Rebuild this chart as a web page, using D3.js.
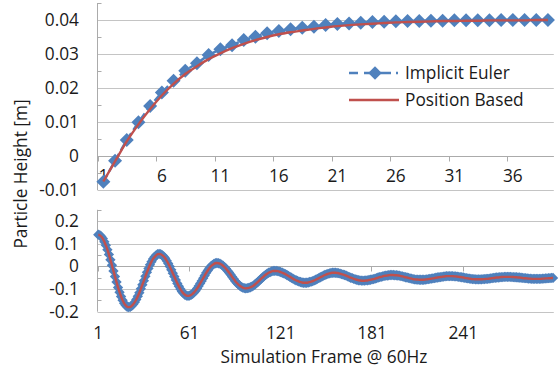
<!DOCTYPE html>
<html lang="en">
    <head>
        <meta charset="utf-8">
        <title>Particle Height</title>
        <script src="https://d3js.org/d3.v7.min.js"></script>
        <style type="text/css">
            body{
                margin:0;
                background:#fff;
            }
            svg{
                width:559px;
                height:373px;
                display:block;
                font-family:"Open Sans", sans-serif;
            }
        </style>
    </head>
    <body>
        <svg></svg>
        <script type="text/javascript">

            // top panel: first 39 frames
            const topFrames = d3.range(1, 40);
            const topEuler = [-0.0076,-0.0014,0.0047,0.0099,0.0147,0.0187,0.0221,0.0251,0.0273,0.0297,
                              0.0314,0.0326,0.0341,0.0351,0.0361,0.0368,0.0373,0.0377,0.0380,0.0385,
                              0.0388,0.0390,0.0392,0.0394,0.0395,0.0396,0.0397,0.0397,0.0398,0.0398,
                              0.0399,0.0399,0.0399,0.0399,0.0400,0.0400,0.0400,0.0400,0.0400];
            const topPosition = [-0.0075,-0.0016,0.0043,0.0093,0.0138,0.0178,0.0212,0.0241,0.0264,0.0285,
                                 0.0302,0.0317,0.0330,0.0341,0.0350,0.0358,0.0364,0.0369,0.0374,0.0378,
                                 0.0382,0.0385,0.0387,0.0389,0.0391,0.0393,0.0394,0.0395,0.0396,0.0397,
                                 0.0397,0.0398,0.0398,0.0399,0.0399,0.0399,0.0399,0.0400,0.0400];
            const topTickLabels = [1, 6, 11, 16, 21, 26, 31, 36];
            const topYTicks = [-0.01, 0, 0.01, 0.02, 0.03, 0.04];

            // bottom panel: 300 frames (both methods overlap)
            const bottomFrames = d3.range(1, 301);
            const bottomHeight = [
                0.140,0.138,0.132,0.123,0.109,0.093,0.074,0.053,0.029,0.005,-0.020,-0.045,-0.069,-0.093,-0.114,-0.133,-0.149,-0.163,-0.172,-0.178,-0.180,
                -0.179,-0.174,-0.167,-0.158,-0.146,-0.132,-0.116,-0.099,-0.081,-0.063,-0.044,-0.026,-0.009,0.007,0.021,0.033,0.042,0.049,0.054,0.055,
                0.054,0.050,0.044,0.036,0.025,0.013,0.000,-0.015,-0.030,-0.045,-0.060,-0.075,-0.088,-0.100,-0.111,-0.119,-0.125,-0.129,-0.130,
                -0.129,-0.126,-0.121,-0.115,-0.107,-0.097,-0.087,-0.075,-0.064,-0.052,-0.040,-0.028,-0.018,-0.008,0.000,0.006,0.011,0.014,0.015,
                0.014,0.012,0.008,0.003,-0.003,-0.010,-0.019,-0.027,-0.036,-0.046,-0.055,-0.064,-0.072,-0.079,-0.085,-0.090,-0.094,-0.096,-0.097,
                -0.096,-0.095,-0.092,-0.089,-0.085,-0.080,-0.074,-0.068,-0.062,-0.055,-0.049,-0.043,-0.037,-0.032,-0.028,-0.025,-0.022,-0.020,-0.020,
                -0.020,-0.021,-0.023,-0.025,-0.028,-0.031,-0.034,-0.038,-0.042,-0.046,-0.050,-0.054,-0.058,-0.061,-0.064,-0.067,-0.069,-0.071,-0.072,-0.072,
                -0.072,-0.071,-0.069,-0.067,-0.065,-0.062,-0.059,-0.055,-0.052,-0.048,-0.045,-0.041,-0.038,-0.035,-0.033,-0.031,-0.029,-0.028,-0.028,
                -0.028,-0.029,-0.030,-0.032,-0.034,-0.036,-0.038,-0.041,-0.044,-0.047,-0.050,-0.052,-0.055,-0.057,-0.059,-0.061,-0.062,-0.063,-0.063,
                -0.063,-0.062,-0.062,-0.060,-0.059,-0.057,-0.056,-0.054,-0.052,-0.049,-0.047,-0.046,-0.044,-0.042,-0.041,-0.040,-0.039,-0.038,-0.038,
                -0.038,-0.039,-0.039,-0.040,-0.041,-0.043,-0.044,-0.046,-0.048,-0.049,-0.051,-0.053,-0.054,-0.056,-0.057,-0.058,-0.058,-0.059,-0.059,
                -0.059,-0.059,-0.058,-0.057,-0.056,-0.055,-0.054,-0.053,-0.052,-0.050,-0.049,-0.048,-0.047,-0.046,-0.045,-0.044,-0.043,-0.043,-0.043,
                -0.043,-0.043,-0.044,-0.044,-0.045,-0.046,-0.047,-0.048,-0.049,-0.051,-0.052,-0.053,-0.054,-0.055,-0.056,-0.056,-0.057,-0.057,-0.057,
                -0.057,-0.057,-0.056,-0.056,-0.055,-0.055,-0.054,-0.053,-0.052,-0.051,-0.050,-0.049,-0.049,-0.048,-0.047,-0.047,-0.046,-0.046,-0.046,
                -0.046,-0.046,-0.047,-0.047,-0.048,-0.048,-0.049,-0.049,-0.050,-0.051,-0.052,-0.052,-0.053,-0.054,-0.054,-0.055,-0.055,-0.055,-0.055,
                -0.055,-0.055,-0.055,-0.054,-0.054,-0.053,-0.053,-0.052,-0.052,-0.051,-0.051
            ];
            const bottomTickLabels = [1, 61, 121, 181, 241];
            const bottomYTicks = [-0.2, -0.1, 0, 0.1, 0.2];

            const seriesNames = ["Implicit Euler", "Position Based"];

            const blue = "#4F81BD";
            const red = "#C0504D";
            const gridColor = "#C4C4C4";
            const axisColor = "#ABABAB";
            const textColor = "#1a1a1a";
            const fontSize = "17.3px";

            const svg = d3.select("svg");
            const left = 97.5, right = 553.8;

            function drawPanel(opts) {
                const g = svg.append("g");
                const x = d3.scaleBand().domain(opts.frames).range([left, right]).padding(0);
                const cx = d => x(d) + x.bandwidth() / 2;
                const y = d3.scaleLinear().domain(opts.yDomain).range(opts.yRange);

                // gridlines
                g.selectAll(".grid")
                    .data(opts.yTicks)
                    .join("line")
                    .attr("x1", left).attr("x2", right)
                    .attr("y1", d => Math.round(y(d)) + 0.5)
                    .attr("y2", d => Math.round(y(d)) + 0.5)
                    .style("stroke", gridColor)
                    .style("stroke-width", 1);

                // vertical axis + minor ticks
                g.append("line")
                    .attr("x1", left).attr("x2", left)
                    .attr("y1", y(opts.yDomain[1])).attr("y2", y(opts.yDomain[0]))
                    .style("stroke", axisColor);
                g.selectAll(".minor")
                    .data(opts.minorTicks)
                    .join("line")
                    .attr("x1", left).attr("x2", left + 4)
                    .attr("y1", d => Math.round(y(d)) + 0.5)
                    .attr("y2", d => Math.round(y(d)) + 0.5)
                    .style("stroke", axisColor);

                // y labels
                g.selectAll(".ylab")
                    .data(opts.yTicks)
                    .join("text")
                    .attr("x", 79)
                    .attr("y", d => y(d))
                    .attr("dy", "0.35em")
                    .attr("text-anchor", "end")
                    .style("font-size", fontSize)
                    .style("fill", textColor)
                    .text(d => d === 0 ? "0" : d3.format(opts.yFormat)(d).replace("−", "-"));

                // horizontal axis at zero
                const y0 = Math.round(y(0)) + 0.5;
                g.append("line")
                    .attr("x1", left).attr("x2", right)
                    .attr("y1", y0).attr("y2", y0)
                    .style("stroke", axisColor);
                g.selectAll(".xtick")
                    .data(opts.tickLabels)
                    .join("line")
                    .attr("x1", d => Math.round(x(d)) + 0.5)
                    .attr("x2", d => Math.round(x(d)) + 0.5)
                    .attr("y1", y0).attr("y2", y0 + 5)
                    .style("stroke", axisColor);
                g.selectAll(".xlab")
                    .data(opts.tickLabels)
                    .join("text")
                    .attr("x", d => cx(d))
                    .attr("y", opts.labelY)
                    .attr("dy", "0.35em")
                    .attr("text-anchor", "middle")
                    .style("font-size", fontSize)
                    .style("fill", textColor)
                    .text(d => d);

                // Implicit Euler: dashed line + diamonds
                const line = d3.line().x((d, i) => cx(opts.frames[i])).y(d => y(d));
                g.append("path")
                    .datum(opts.euler)
                    .attr("d", line)
                    .style("fill", "none")
                    .style("stroke", blue)
                    .style("stroke-width", 2.5)
                    .style("stroke-dasharray", "8,4");
                const sym = d3.symbol().type(d3.symbolDiamond2).size(opts.markerSize);
                g.selectAll(".mk")
                    .data(opts.euler)
                    .join("path")
                    .attr("d", sym)
                    .attr("transform", (d, i) => `translate(${cx(opts.frames[i])},${y(d)})`)
                    .style("fill", blue);

                // Position Based: solid red line
                g.append("path")
                    .datum(opts.position)
                    .attr("d", line.curve(d3.curveMonotoneX))
                    .style("fill", "none")
                    .style("stroke", red)
                    .style("stroke-width", 2.4);
            }

            drawPanel({
                frames: topFrames,
                euler: topEuler,
                position: topPosition,
                yDomain: [-0.01, 0.045],
                yRange: [190, 3],
                yTicks: topYTicks,
                minorTicks: d3.range(-0.005, 0.046, 0.01),
                yFormat: ".2f",
                tickLabels: topTickLabels,
                labelY: 176,
                markerSize: 125
            });

            drawPanel({
                frames: bottomFrames,
                euler: bottomHeight,
                position: bottomHeight,
                yDomain: [-0.2, 0.25],
                yRange: [311.7, 209.8],
                yTicks: bottomYTicks,
                minorTicks: [-0.15, -0.05, 0.05, 0.15, 0.25],
                yFormat: ".1f",
                tickLabels: bottomTickLabels,
                labelY: 333,
                markerSize: 68
            });

            // legend
            const legend = svg.append("g");
            legend.append("line")
                .attr("x1", 349).attr("x2", 399)
                .attr("y1", 73).attr("y2", 73)
                .style("stroke", blue)
                .style("stroke-width", 2.5)
                .style("stroke-dasharray", "9,6,27,5,2,10");
            legend.append("path")
                .attr("d", d3.symbol().type(d3.symbolDiamond2).size(115))
                .attr("transform", "translate(375,73)")
                .style("fill", blue);
            legend.append("line")
                .attr("x1", 349).attr("x2", 399)
                .attr("y1", 100).attr("y2", 100)
                .style("stroke", red)
                .style("stroke-width", 2.4);
            legend.selectAll("text")
                .data(seriesNames)
                .join("text")
                .attr("x", 405)
                .attr("y", (d, i) => 73 + i * 27)
                .attr("dy", "0.35em")
                .style("font-size", fontSize)
                .style("fill", textColor)
                .text(d => d);

            // axis titles
            svg.append("text")
                .attr("transform", "translate(21,174) rotate(-90)")
                .attr("dy", "0.35em")
                .attr("text-anchor", "middle")
                .style("font-size", fontSize)
                .style("fill", textColor)
                .text("Particle Height [m]");
            svg.append("text")
                .attr("x", 324)
                .attr("y", 357)
                .attr("dy", "0.35em")
                .attr("text-anchor", "middle")
                .style("font-size", fontSize)
                .style("fill", textColor)
                .text("Simulation Frame @ 60Hz");

        </script>
    </body>
</html>
